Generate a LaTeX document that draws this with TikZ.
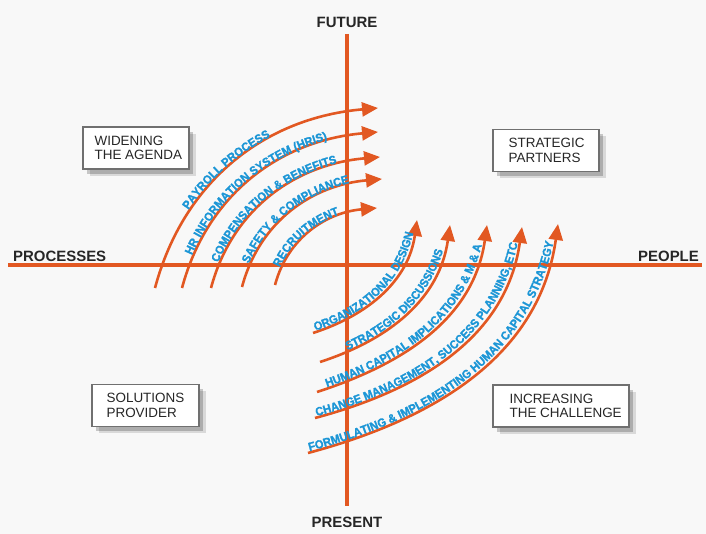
\documentclass[tikz,border=0pt]{standalone}
\usepackage{fontspec}
\setmainfont{Liberation Sans}
\newfontfamily\flowface[FakeStretch=0.93,BoldFeatures={FakeBold=1.5}]{Liberation Sans}
\usetikzlibrary{arrows.meta, positioning, decorations.text, shadows}
\definecolor{axisorange}{RGB}{226,88,34}
\definecolor{flowblue}{RGB}{28,150,214}
\definecolor{boxgray}{RGB}{112,112,112}
\definecolor{paper}{RGB}{248,248,248}
\newcommand*{\flowfont}{\flowface\fontsize{12}{14}\selectfont\bfseries}

\begin{document}
\begin{tikzpicture}[x=1bp,y=1bp,>={Triangle[length=16bp,width=14bp]},
      axis/.style={draw=axisorange,line width=4.5bp},
      flow/.style={draw=axisorange,line width=2.6bp,->},
      flowtext/.style={decorate,decoration={text along path,text color=flowblue,
          raise=1.3bp,text align={left indent=#1}}},
      pole/.style={font=\fontsize{15}{17}\selectfont\bfseries,text=black!85,inner sep=0pt},
      quadrant/.style={draw=boxgray,fill=white,line width=1.2bp,minimum height=42bp,
          drop shadow={shadow xshift=7bp,shadow yshift=-7bp,fill=black,opacity=0.12},
          drop shadow={shadow xshift=4bp,shadow yshift=-5bp,fill=black,opacity=0.2}},
      quadtext/.style={align=left,inner sep=0pt,font=\fontsize{13.5}{14.7}\selectfont,text=black!85}]
      \fill[paper] (0,0) rectangle (706,534);
      \useasboundingbox (0,0) rectangle (706,534);
      % axes
      \coordinate (fut) at (347,500);
      \coordinate (pres) at (347,28);
      \coordinate (proc) at (8,269);
      \coordinate (peop) at (702,269);
      \draw[axis] (proc) -- (peop);
      \draw[axis] (fut) -- (pres);
      \node[pole, above=6bp of fut] (future) {FUTURE};
      \node[pole, below=11bp of pres] (present) {PRESENT};
      \node[pole, anchor=base west] (processes) at (13,272) {PROCESSES};
      \node[pole, anchor=base east] (people) at (699,272) {PEOPLE};
      % upper left flows
      \coordinate (pay-s) at (155,246);  \coordinate (pay-e) at (378,426);
      \coordinate (hris-s) at (182,246); \coordinate (hris-e) at (378,402);
      \coordinate (comp-s) at (211,246); \coordinate (comp-e) at (380,377);
      \coordinate (safe-s) at (242,247); \coordinate (safe-e) at (382,355);
      \coordinate (recr-s) at (275,249); \coordinate (recr-e) at (377,326);
      \draw[flow] (pay-s) to[out=75,in=185] (pay-e);
      \draw[flow] (hris-s) to[out=75,in=185] (hris-e);
      \draw[flow] (comp-s) to[out=75,in=185] (comp-e);
      \draw[flow] (safe-s) to[out=75,in=185] (safe-e);
      \draw[flow] (recr-s) to[out=75,in=185] (recr-e);
      \path[flowtext=85bp, decoration={text={|\flowfont|PAYROLL PROCESS}}] (pay-s) to[out=75,in=185] (pay-e);
      \path[flowtext=34bp, decoration={text={|\flowfont|HR INFORMATION SYSTEM (HRIS)}}] (hris-s) to[out=75,in=185] (hris-e);
      \path[flowtext=26bp, decoration={text={|\flowfont|COMPENSATION {\&} BENEFITS}}] (comp-s) to[out=75,in=185] (comp-e);
      \path[flowtext=24bp, decoration={text={|\flowfont|SAFETY {\&} COMPLIANCE}}] (safe-s) to[out=75,in=185] (safe-e);
      \path[flowtext=18bp, decoration={text={|\flowfont|RECRUITMENT}}] (recr-s) to[out=75,in=185] (recr-e);
      % lower right flows
      \coordinate (orgd-s) at (313,201); \coordinate (orgd-e) at (417,314);
      \coordinate (strd-s) at (320,172); \coordinate (strd-e) at (450,309);
      \coordinate (hcap-s) at (317,142); \coordinate (hcap-e) at (487,309);
      \coordinate (chng-s) at (315,116); \coordinate (chng-e) at (522,307);
      \coordinate (form-s) at (308,81);  \coordinate (form-e) at (558,310);
      \draw[flow] (orgd-s) to[out=18,in=-98] (orgd-e);
      \draw[flow] (strd-s) to[out=18,in=-98] (strd-e);
      \draw[flow] (hcap-s) to[out=18,in=-98] (hcap-e);
      \draw[flow] (chng-s) to[out=15,in=-98] (chng-e);
      \draw[flow] (form-s) to[out=15,in=-98] (form-e);
      \path[flowtext=3bp, decoration={text={|\flowfont|ORGANIZATIONAL DESIGN}}] (orgd-s) to[out=18,in=-98] (orgd-e);
      \path[flowtext=30bp, decoration={text={|\flowfont|STRATEGIC DISCUSSIONS}}] (strd-s) to[out=18,in=-98] (strd-e);
      \path[flowtext=11bp, decoration={text={|\flowfont|HUMAN CAPITAL IMPLICATIONS {\&} M {\&} A}}] (hcap-s) to[out=18,in=-98] (hcap-e);
      \path[flowtext=2bp, decoration={text={|\flowfont|CHANGE MANAGEMENT, SUCCESS PLANNING, ETC}}] (chng-s) to[out=15,in=-98] (chng-e);
      \path[flowtext=2bp, decoration={text={|\flowfont|FORMULATING {\&} IMPLEMENTING HUMAN CAPITAL STRATEGY}}] (form-s) to[out=15,in=-98] (form-e);
      % quadrant boxes
      \node[quadrant, minimum width=106bp] (widen) at (136,386) {};
      \node[quadtext, right=12bp of widen.west] {WIDENING\\THE AGENDA};
      \node[quadrant, minimum width=106bp] (partner) at (546,383.5) {};
      \node[quadtext, right=16bp of partner.west] {STRATEGIC\\PARTNERS};
      \node[quadrant, minimum width=107bp] (solution) at (145.5,128.5) {};
      \node[quadtext, right=15bp of solution.west] {SOLUTIONS\\PROVIDER};
      \node[quadrant, minimum width=136bp] (challenge) at (561,128) {};
      \node[quadtext, right=17bp of challenge.west] {INCREASING\\THE CHALLENGE};
    \end{tikzpicture}
\end{document}
